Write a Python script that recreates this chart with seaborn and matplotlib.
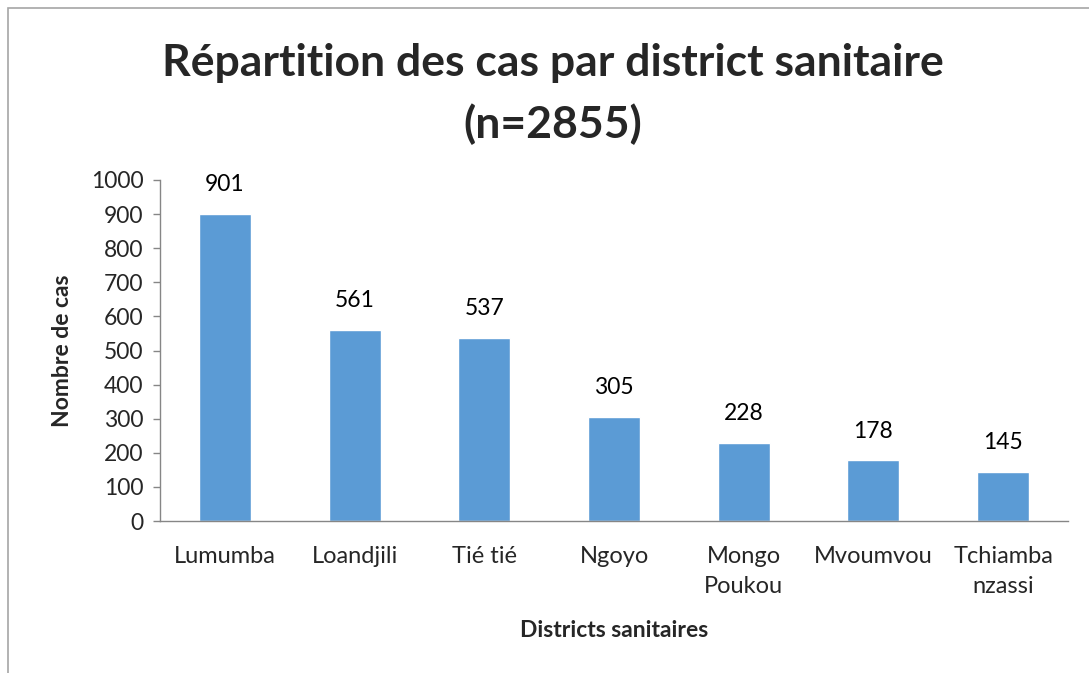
import matplotlib
matplotlib.use('Agg')
import matplotlib.pyplot as plt
import seaborn as sns
import pandas as pd
from matplotlib.patches import Rectangle

districts = ['Lumumba', 'Loandjili', 'Tié tié', 'Ngoyo', 'Mongo\nPoukou', 'Mvoumvou', 'Tchiamba\nnzassi']
cases = [901, 561, 537, 305, 228, 178, 145]
yticks = [0, 100, 200, 300, 400, 500, 600, 700, 800, 900, 1000]

sns.set_theme(style='white')
plt.rcParams['font.family'] = ['Lato', 'DejaVu Sans']

df = pd.DataFrame({'district': districts, 'cases': cases})

fig = plt.figure(figsize=(10.89, 6.73), dpi=100)
ax = fig.add_axes([160 / 1089, 1 - 521 / 673, (1068 - 160) / 1089, (521 - 180) / 673])

# outer chart frame (cropped on right/bottom like the source)
fig.patches.append(Rectangle((8 / 1089, -0.1), 1.2, 1 - 8 / 673 + 0.1, transform=fig.transFigure,
                             fill=False, edgecolor='#a6a6a6', linewidth=1.2))

sns.barplot(data=df, x='district', y='cases', color='#5b9bd5', width=0.4, saturation=1, ax=ax)

for i, v in enumerate(cases):
    ax.text(i, v + 55, str(v), ha='center', va='bottom', fontsize=16.5, color='black')

ax.set_ylim(0, 1000)
ax.set_yticks(yticks)
ax.set_xlim(-0.5, len(districts) - 0.5)
ax.tick_params(axis='y', labelsize=16.5, length=5, width=1, color='#868686', left=True, pad=7)
ax.tick_params(axis='x', labelsize=17, length=0, pad=18)
for lbl in ax.get_xticklabels():
    lbl.set_linespacing(1.55)
for s in ['top', 'right']:
    ax.spines[s].set_visible(False)
for s in ['left', 'bottom']:
    ax.spines[s].set_color('#868686')
    ax.spines[s].set_linewidth(1)

ax.set_ylabel('Nombre de cas', fontsize=16.5, fontweight='bold', labelpad=13)
ax.set_xlabel('Districts sanitaires', fontsize=16.5, fontweight='bold', labelpad=16)

fig.text(553 / 1089, 1 - 94 / 673, 'Répartition des cas par district sanitaire\n(n=2855)',
         ha='center', va='center', fontsize=32, fontweight='bold', linespacing=1.6)

fig.savefig('out.png', dpi=100)
